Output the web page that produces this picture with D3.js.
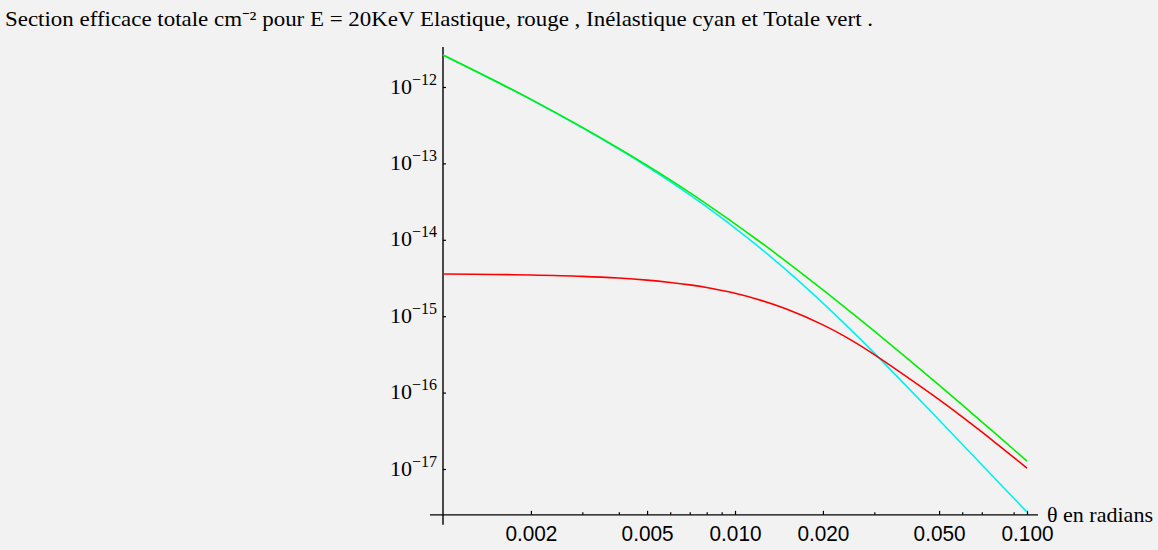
<!DOCTYPE html>
<html>
<head>
<meta charset="utf-8">
<script src="https://cdnjs.cloudflare.com/ajax/libs/d3/7.8.5/d3.min.js"></script>
<style>
  html, body { margin: 0; padding: 0; background: #f2f2f2; }
  svg { display: block; }
</style>
</head>
<body>
<svg id="chart" width="1158" height="550"></svg>
<script>
// ---- data ----
const theta = [0.001, 0.0015, 0.002, 0.003, 0.004, 0.005, 0.006, 0.007, 0.008, 0.01,
               0.012, 0.015, 0.02, 0.025, 0.03, 0.04, 0.05, 0.06, 0.07, 0.08, 0.1];
// Elastique (rouge)
const elastique = [3.565e-15, 3.521e-15, 3.461e-15, 3.323e-15, 3.155e-15, 2.965e-15, 2.766e-15, 2.570e-15, 2.371e-15, 1.992e-15,
                   1.654e-15, 1.238e-15, 7.70e-16, 4.87e-16, 3.146e-16, 1.480e-16, 8.10e-17, 4.82e-17, 3.06e-17, 2.04e-17, 1.03e-17];
// Inélastique (cyan)
const inelastique = [2.620e-12, 1.2105e-12, 6.855e-13, 2.932e-13, 1.542e-13, 9.12e-14, 5.80e-14, 3.88e-14, 2.69e-14, 1.422e-14,
                     8.20e-15, 4.00e-15, 1.482e-15, 6.56e-16, 3.28e-16, 1.062e-16, 4.37e-17, 2.107e-17, 1.138e-17, 6.67e-18, 2.73e-18];
// Totale (vert)
const totale = [2.624e-12, 1.214e-12, 6.89e-13, 2.965e-13, 1.574e-13, 9.42e-14, 6.08e-14, 4.14e-14, 2.93e-14, 1.62e-14,
                9.79e-15, 5.17e-15, 2.21e-15, 1.12e-15, 6.37e-16, 2.56e-16, 1.25e-16, 6.90e-17, 4.15e-17, 2.67e-17, 1.27e-17];

const xTickLabels = [0.002, 0.005, 0.010, 0.020, 0.050, 0.100];
const xMinorTicks = [0.003, 0.004, 0.006, 0.007, 0.008, 0.009, 0.03, 0.06, 0.07, 0.09];
const yTickExponents = [-12, -13, -14, -15, -16, -17];

const titleText = "Section efficace totale cm\u207B\u00B2 pour E = 20KeV Elastique, rouge , In\u00E9lastique cyan et Totale vert .";
const xLabelText = "\u03B8 en radians";

// ---- drawing ----
const svg = d3.select("#chart");
svg.append("rect").attr("width", 1158).attr("height", 550).attr("fill", "#f2f2f2");

const x = d3.scaleLog().domain([0.001, 0.1]).range([443, 1027]);
const y = d3.scaleLog().domain([1e-17, 1e-12]).range([469, 87]);

const xAxisValue = Math.pow(10, -17.6);     // where the horizontal axis sits
const yAxisTop = Math.pow(10, -11.477);
const xAxisLeft = x.invert(430), xAxisRight = x.invert(1038);

// title
svg.append("text")
  .attr("x", 5).attr("y", 26)
  .attr("font-family", "Liberation Serif, Times New Roman, serif")
  .attr("font-size", 21)
  .attr("textLength", 868).attr("lengthAdjust", "spacingAndGlyphs")
  .attr("fill", "#000")
  .text(titleText);

// axis lines
svg.append("line")
  .attr("x1", x(xAxisLeft)).attr("x2", x(xAxisRight))
  .attr("y1", y(xAxisValue)).attr("y2", y(xAxisValue))
  .attr("stroke", "#000").attr("stroke-width", 1.4);
svg.append("line")
  .attr("x1", x(0.001)).attr("x2", x(0.001))
  .attr("y1", y(yAxisTop)).attr("y2", y(xAxisValue) + 10)
  .attr("stroke", "#000").attr("stroke-width", 1.4);

// y axis ticks + labels
const yAxis = d3.axisLeft(y)
  .tickValues(yTickExponents.map(e => Math.pow(10, e)))
  .tickSizeInner(-3).tickSizeOuter(0).tickPadding(6)
  .tickFormat("");
const gy = svg.append("g").attr("transform", `translate(${x(0.001)},0)`).call(yAxis);
gy.select(".domain").remove();
gy.selectAll(".tick line").attr("stroke", "#000").attr("stroke-width", 1.2);
gy.selectAll(".tick").each(function(d) {
  const e = Math.round(Math.log10(d));
  const t = d3.select(this).append("text")
    .attr("x", -6).attr("y", 6)
    .attr("text-anchor", "end")
    .attr("font-family", "Liberation Serif, Times New Roman, serif")
    .attr("fill", "#000");
  t.append("tspan").attr("font-size", 22).text("10");
  t.append("tspan").attr("font-size", 16).attr("dy", -9).text("\u2212" + Math.abs(e));
});

// x axis ticks + labels
const xAxis = d3.axisBottom(x)
  .tickValues(xTickLabels)
  .tickSizeInner(-4).tickSizeOuter(0).tickPadding(0)
  .tickFormat(d3.format(".3f"));
const gx = svg.append("g").attr("transform", `translate(0,${y(xAxisValue)})`).call(xAxis);
gx.select(".domain").remove();
gx.selectAll(".tick line").attr("stroke", "#000").attr("stroke-width", 1.2);
gx.selectAll(".tick text")
  .attr("y", 26).attr("dy", null)
  .attr("font-family", "Liberation Sans, Arial, sans-serif")
  .attr("font-size", 22)
  .attr("textLength", 52).attr("lengthAdjust", "spacingAndGlyphs")
  .attr("fill", "#000");

const xAxisMinor = d3.axisBottom(x)
  .tickValues(xMinorTicks)
  .tickSizeInner(-2.5).tickSizeOuter(0).tickFormat("");
const gxm = svg.append("g").attr("transform", `translate(0,${y(xAxisValue)})`).call(xAxisMinor);
gxm.select(".domain").remove();
gxm.selectAll(".tick line").attr("stroke", "#000").attr("stroke-width", 1.2);

// x label
svg.append("text")
  .attr("x", x(xAxisRight) + 9).attr("y", y(xAxisValue) + 7)
  .attr("font-family", "Liberation Serif, Times New Roman, serif")
  .attr("font-size", 22).attr("fill", "#000")
  .attr("textLength", 106).attr("lengthAdjust", "spacingAndGlyphs")
  .text(xLabelText);

// curves
const line = d3.line()
  .x(d => x(d[0])).y(d => y(d[1]))
  .curve(d3.curveCatmullRom.alpha(0.5));
const series = [
  { values: inelastique, color: "#00f0f0" },
  { values: elastique, color: "#ff0000" },
  { values: totale, color: "#00ee00" }
];
series.forEach(s => {
  svg.append("path")
    .datum(theta.map((t, i) => [t, s.values[i]]))
    .attr("d", line)
    .attr("fill", "none")
    .attr("stroke", s.color)
    .attr("stroke-width", 1.6);
});
</script>
</body>
</html>
